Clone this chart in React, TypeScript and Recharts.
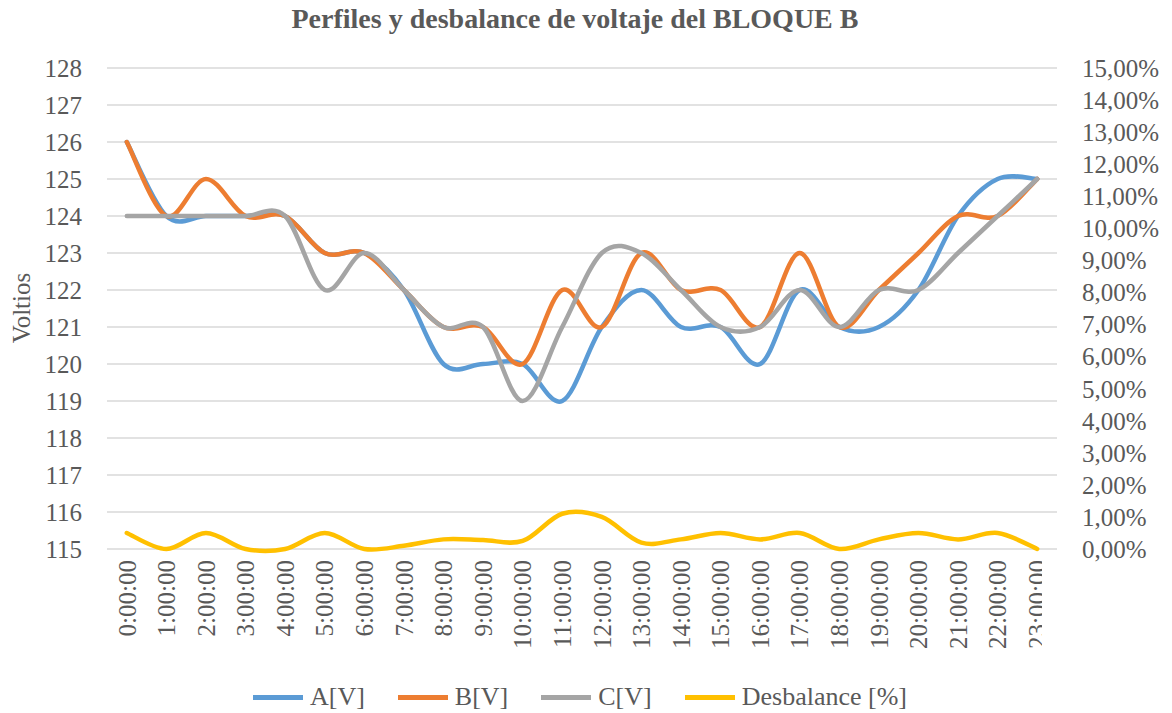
import { LineChart, Line, XAxis, YAxis, CartesianGrid } from 'recharts';

// horas del día (eje X)
const horas = [
  '0:00:00', '1:00:00', '2:00:00', '3:00:00', '4:00:00', '5:00:00',
  '6:00:00', '7:00:00', '8:00:00', '9:00:00', '10:00:00', '11:00:00',
  '12:00:00', '13:00:00', '14:00:00', '15:00:00', '16:00:00', '17:00:00',
  '18:00:00', '19:00:00', '20:00:00', '21:00:00', '22:00:00', '23:00:00',
];

const faseA = [126, 124, 124, 124, 124, 123, 123, 122, 120, 120, 120, 119, 121, 122, 121, 121, 120, 122, 121, 121, 122, 124, 125, 125];
const faseB = [126, 124, 125, 124, 124, 123, 123, 122, 121, 121, 120, 122, 121, 123, 122, 122, 121, 123, 121, 122, 123, 124, 124, 125];
const faseC = [124, 124, 124, 124, 124, 122, 123, 122, 121, 121, 119, 121, 123, 123, 122, 121, 121, 122, 121, 122, 122, 123, 124, 125];
// desbalance en %
const desbalance = [0.5, 0, 0.5, 0, 0, 0.5, 0, 0.1, 0.3, 0.28, 0.25, 1.1, 1.0, 0.2, 0.3, 0.5, 0.3, 0.5, 0, 0.3, 0.5, 0.3, 0.5, 0];

const ticksVoltios = [115, 116, 117, 118, 119, 120, 121, 122, 123, 124, 125, 126, 127, 128];
const ticksPct = [0, 1, 2, 3, 4, 5, 6, 7, 8, 9, 10, 11, 12, 13, 14, 15];

const data = horas.map((h, i) => ({
  hora: h,
  a: faseA[i],
  b: faseB[i],
  c: faseC[i],
  d: desbalance[i],
}));

const FONT = '"Liberation Serif", "Times New Roman", serif';
const GRIS = '#595959';

const SERIES = [
  { key: 'a', name: 'A[V]', color: '#5B9BD5', axis: 'left' },
  { key: 'b', name: 'B[V]', color: '#ED7D31', axis: 'left' },
  { key: 'c', name: 'C[V]', color: '#A5A5A5', axis: 'left' },
  { key: 'd', name: 'Desbalance [%]', color: '#FFC000', axis: 'right' },
];

// suavizado tipo Excel (catmull-rom)
function excelSmooth(context: any) {
  let pts: number[][] = [];
  return {
    areaStart() {},
    areaEnd() {},
    lineStart() {
      pts = [];
    },
    point(x: number, y: number) {
      pts.push([+x, +y]);
    },
    lineEnd() {
      const n = pts.length;
      if (!n) return;
      context.moveTo(pts[0][0], pts[0][1]);
      for (let i = 0; i < n - 1; i++) {
        const p0 = pts[Math.max(i - 1, 0)];
        const p1 = pts[i];
        const p2 = pts[i + 1];
        const p3 = pts[Math.min(i + 2, n - 1)];
        context.bezierCurveTo(
          p1[0] + (p2[0] - p0[0]) / 6,
          p1[1] + (p2[1] - p0[1]) / 6,
          p2[0] - (p3[0] - p1[0]) / 6,
          p2[1] - (p3[1] - p1[1]) / 6,
          p2[0],
          p2[1],
        );
      }
    },
  };
}

function HoraTick({ x, y, payload }: any) {
  const clipW = 1042 - x;
  return (
    <g transform={`translate(${x},${y})`}>
      <clipPath id={`clip-${payload.index}`}>
        <rect x={-40} y={-10} width={40 + clipW} height={140} />
      </clipPath>
      <g clipPath={`url(#clip-${payload.index})`}>
        <text
          transform="rotate(-90)"
          x={0}
          y={0}
          dy="0.35em"
          textAnchor="end"
          fill={GRIS}
          fontSize={25}
          fontFamily={FONT}
        >
          {payload.value}
        </text>
      </g>
    </g>
  );
}

export default function App() {
  return (
    <div
      style={{
        position: 'absolute',
        left: 0,
        top: 0,
        width: 1172,
        height: 713,
        background: '#fff',
        fontFamily: FONT,
      }}
    >
      <div
        style={{
          position: 'absolute',
          top: 3,
          left: 0,
          width: 1150,
          textAlign: 'center',
          fontSize: 28,
          fontWeight: 'bold',
          color: GRIS,
        }}
      >
        Perfiles y desbalance de voltaje del BLOQUE B
      </div>

      <div
        style={{
          position: 'absolute',
          left: 22,
          top: 308,
          transform: 'translate(-50%, -50%) rotate(-90deg)',
          fontSize: 25,
          color: GRIS,
          whiteSpace: 'nowrap',
        }}
      >
        Voltios
      </div>

      <LineChart
        width={1172}
        height={713}
        data={data}
        margin={{ top: 68, right: 0, bottom: 44, left: 0 }}
      >
        <CartesianGrid yAxisId="left" vertical={false} stroke="#D9D9D9" strokeWidth={1.5} />
        <XAxis
          dataKey="hora"
          interval={0}
          height={120}
          axisLine={false}
          tickLine={false}
          tickSize={0}
          tickMargin={11}
          padding={{ left: 19.8, right: 19.8 }}
          tick={<HoraTick />}
        />
        <YAxis
          yAxisId="left"
          domain={[115, 128]}
          ticks={ticksVoltios}
          interval={0}
          width={107}
          axisLine={false}
          tickLine={false}
          tickSize={0}
          tickMargin={25}
          tick={{ fill: GRIS, fontSize: 25, fontFamily: FONT }}
        />
        <YAxis
          yAxisId="right"
          orientation="right"
          domain={[0, 15]}
          ticks={ticksPct}
          interval={0}
          width={115}
          axisLine={false}
          tickLine={false}
          tickSize={0}
          tickMargin={25}
          tickFormatter={(v: number) => `${v.toFixed(2).replace('.', ',')}%`}
          tick={{ fill: GRIS, fontSize: 25, fontFamily: FONT }}
        />
        {SERIES.map((s) => (
          <Line
            key={s.key}
            yAxisId={s.axis}
            dataKey={s.key}
            name={s.name}
            type={excelSmooth as any}
            stroke={s.color}
            strokeWidth={4.5}
            strokeLinecap="round"
            dot={false}
            activeDot={false}
            isAnimationActive={false}
          />
        ))}
      </LineChart>

      {/* leyenda */}
      <div
        style={{
          position: 'absolute',
          top: 682,
          left: 0,
          width: 1160,
          display: 'flex',
          justifyContent: 'center',
          alignItems: 'center',
          gap: 33,
          fontSize: 26,
          color: GRIS,
        }}
      >
        {SERIES.map((s) => (
          <div key={s.key} style={{ display: 'flex', alignItems: 'center', gap: 7 }}>
            <div style={{ width: 50, height: 5, background: s.color }} />
            <span>{s.name}</span>
          </div>
        ))}
      </div>
    </div>
  );
}
